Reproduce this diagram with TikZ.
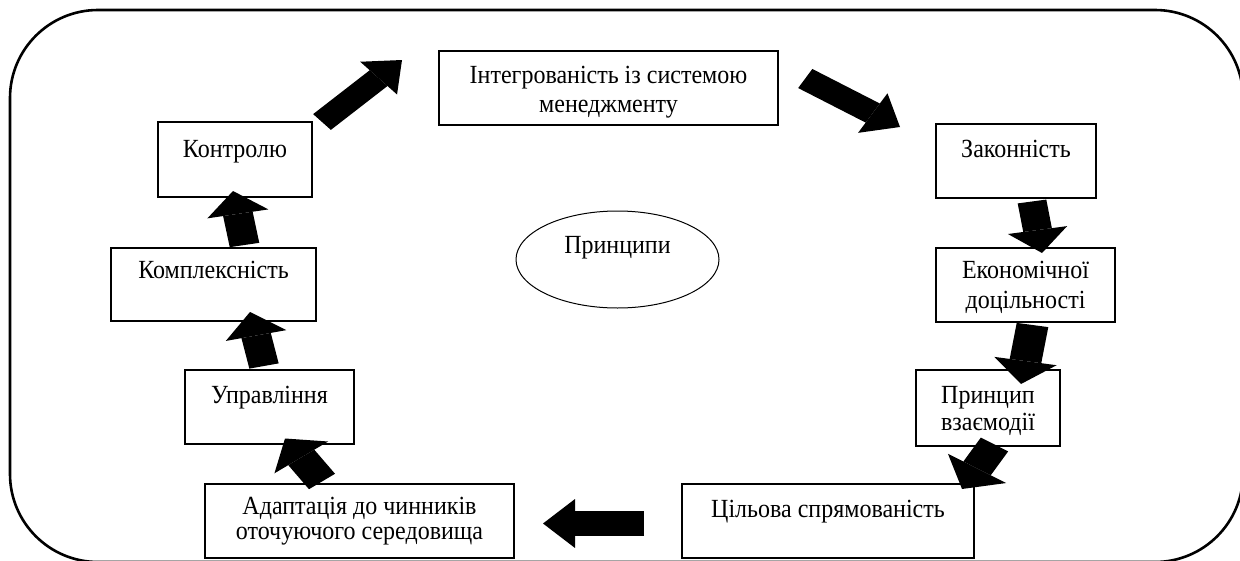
\documentclass[tikz,border=0pt]{standalone}
\usepackage{fontspec}
\usepackage{graphicx}
\setmainfont{Liberation Serif}
\usetikzlibrary{arrows.meta,shapes.geometric}
\newcommand{\tallt}[1]{\scalebox{1}[1.09]{#1}}
\newcommand{\oneline}[2]{\smash{\raisebox{#1pt}{\tallt{#2}}}}
\newcommand{\twolines}[4]{\smash{\makebox[0pt]{\raisebox{#1pt}{\tallt{#3}}}\makebox[0pt]{\raisebox{#2pt}{\tallt{#4}}}}}
\tikzset{
  x=1pt,y=-1pt,
  framebox/.style={draw=black,line width=2.6pt,rounded corners=88pt},
  stepbox/.style={draw=black,line width=1.2pt,inner sep=0pt,outer sep=0pt,fill=white,font=\fontsize{24}{24}\selectfont},
  oval/.style={draw=black,line width=1pt,ellipse,inner sep=0pt,font=\fontsize{24}{24}\selectfont},
  block/.style n args={3}{draw=black,line width=#1pt,
    -{Triangle[length=#3pt,width=#2pt,fill=black,line width=0pt]}},
}
\begin{document}
\begin{tikzpicture}
\useasboundingbox (0,0) rectangle (1240,560);
\fill[white] (0,0) rectangle (1240,560);
\draw[framebox] (10,10) rectangle (1243,562);
\node[stepbox,minimum width=339pt,minimum height=74pt] (integ) at (608.5,88) {\twolines{5}{-24}{Інтегрованість із системою}{менеджменту}};
\node[stepbox,minimum width=154pt,minimum height=75pt] (kontrol) at (235,159.5) {\oneline{2.5}{Контролю}};
\node[stepbox,minimum width=205pt,minimum height=73pt] (kompl) at (213.5,284.5) {\oneline{6}{Комплексність}};
\node[stepbox,minimum width=169pt,minimum height=74pt] (uprav) at (269.5,407) {\oneline{4}{Управління}};
\node[stepbox,minimum width=309pt,minimum height=74pt] (adapt) at (359.5,521) {\twolines{7}{-18}{Адаптація до чинників}{оточуючого середовища}};
\node[stepbox,minimum width=292pt,minimum height=74pt] (cil) at (828,521) {\oneline{4}{Цільова спрямованість}};
\node[stepbox,minimum width=144pt,minimum height=76pt] (vzaem) at (988,408) {\twolines{5}{-22}{Принцип}{взаємодії}};
\node[stepbox,minimum width=179pt,minimum height=74pt] (econ) at (1025.5,285) {\twolines{7}{-23}{Економічної}{доцільності}};
\node[stepbox,minimum width=160pt,minimum height=74pt] (zakon) at (1016,161) {\oneline{4}{Законність}};
\node[oval,minimum width=203pt,minimum height=97pt] (princ) at (617.5,259.5) {\oneline{6}{Принципи}};
\begin{scope}[transform canvas={yscale=0.83},y=-1.2048pt]
\coordinate (a1s) at (322,122); \coordinate (a1e) at (402,60);
\coordinate (a2s) at (805.25,78.5);  \coordinate (a2e) at (900,127);
\coordinate (a3s) at (1032,201.5); \coordinate (a3e) at (1042,253);
\coordinate (a4s) at (1032.5,325); \coordinate (a4e) at (1021,384);
\coordinate (a5s) at (994.5,444.5); \coordinate (a5e) at (962,489);
\coordinate (a6s) at (644,523.5); \coordinate (a6e) at (543,523.5);
\coordinate (a7s) at (322,481.5); \coordinate (a7e) at (285,438.5);
\coordinate (a8s) at (264,366); \coordinate (a8e) at (250,312);
\coordinate (a9s) at (244.5,245); \coordinate (a9e) at (233,191);
\draw[block={26}{54}{32}] (a1s) -- (a1e);
\draw[block={27}{56}{32}] (a2s) -- (a2e);
\draw[block={29}{60}{28}] (a3s) -- (a3e);
\draw[block={32}{63}{28}] (a4s) -- (a4e);
\draw[block={32}{68}{29}] (a5s) -- (a5e);
\draw[block={30}{59}{32}] (a6s) -- (a6e);
\draw[block={32}{66}{28}] (a7s) -- (a7e);
\draw[block={30}{62}{29}] (a8s) -- (a8e);
\draw[block={30}{62}{28}] (a9s) -- (a9e);
\end{scope}
\end{tikzpicture}
\end{document}
